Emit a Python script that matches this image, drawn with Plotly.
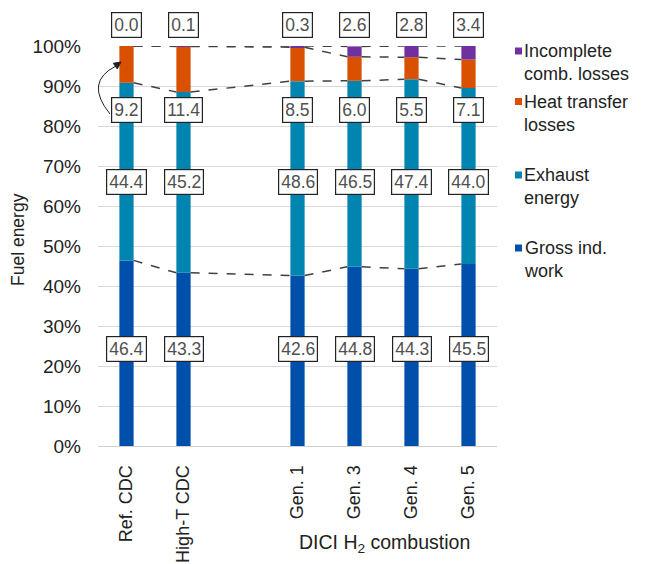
import plotly.graph_objects as go

categories = ["Ref. CDC", "High-T CDC", "Gen. 1", "Gen. 3", "Gen. 4", "Gen. 5"]
positions = [0, 1, 3, 4, 5, 6]
gross_work = [46.4, 43.3, 42.6, 44.8, 44.3, 45.5]
exhaust = [44.4, 45.2, 48.6, 46.5, 47.4, 44.0]
heat_transfer = [9.2, 11.4, 8.5, 6.0, 5.5, 7.1]
incomplete = [0.0, 0.1, 0.3, 2.6, 2.8, 3.4]
y_ticks = [0, 10, 20, 30, 40, 50, 60, 70, 80, 90, 100]

BAR_W = 0.25
L, R, T, B = 98, 150, 46, 118
W, H = 647, 564
PW, PH = W - L - R, H - T - B

def px(x):
    return (x - L) / PW

def py(y):
    return (H - B - y) / PH

FONT = "Liberation Sans, Arial"

# (name, values, colour, label centre in pixel y)
series = [
    ("Gross ind. work", gross_work, "#0050AB", 348.5),
    ("Exhaust energy", exhaust, "#0084B0", 182),
    ("Heat transfer losses", heat_transfer, "#D85000", 110),
    ("Incomplete comb. losses", incomplete, "#7030A0", 25.5),
]

fig = go.Figure()
cum = [0.0] * len(positions)
tops = []
for name, vals, color, _ in series:
    fig.add_trace(go.Bar(
        x=positions, y=vals, base=cum[:], width=BAR_W, name=name,
        marker=dict(color=color, line=dict(width=0)), showlegend=False,
    ))
    cum = [c + v for c, v in zip(cum, vals)]
    tops.append(cum[:])

# series lines connecting segment tops
for top in tops:
    xs, ys = [], []
    for i in range(len(positions) - 1):
        xs += [positions[i] + BAR_W / 2, positions[i + 1] - BAR_W / 2, None]
        ys += [top[i], top[i + 1], None]
    fig.add_trace(go.Scatter(
        x=xs, y=ys, mode="lines", showlegend=False, hoverinfo="skip",
        line=dict(color="#404040", width=1.5, dash="dash"),
    ))

# boxed value labels
for name, vals, color, ylab in series:
    for xp, v in zip(positions, vals):
        fig.add_annotation(
            x=xp, xref="x", y=py(ylab), yref="paper", xanchor="center", yanchor="middle",
            text=f"{v:.1f}", showarrow=False,
            font=dict(family=FONT, size=17.5, color="#505050"),
            bgcolor="white", bordercolor="#222222", borderwidth=1.2, borderpad=2,
        )

# manual legend
legend_items = [
    ("Incomplete<br>comb. losses", "#7030A0", 51),
    ("Heat transfer<br>losses", "#D85000", 101.5),
    ("Exhaust<br>energy", "#0084B0", 175),
    ("Gross ind.<br>work", "#0050AB", 248),
]
for text, color, yc in legend_items:
    fig.add_shape(type="rect", xref="paper", yref="paper",
                  x0=px(515), x1=px(522), y0=py(yc + 3.5), y1=py(yc - 3.5),
                  fillcolor=color, line=dict(width=0))
    fig.add_annotation(xref="paper", yref="paper", x=px(522), y=py(yc - 12),
                       xanchor="left", yanchor="top", align="left", showarrow=False,
                       text=text,
                       font=dict(family=FONT, size=18, color="#222222"))

# curved arrow from 9.2 label to heat transfer segment
p0 = (110, 114)
pc = (84, 82)
p1 = (116, 66)
fig.add_shape(type="path", xref="paper", yref="paper",
              path=f"M {px(p0[0])},{py(p0[1])} Q {px(pc[0])},{py(pc[1])} {px(p1[0])},{py(p1[1])}",
              line=dict(color="#222222", width=1))
head = [(121, 62), (117.3, 68.9), (113.3, 63.3)]
fig.add_shape(type="path", xref="paper", yref="paper",
              path="M " + " L ".join(f"{px(a)},{py(b)}" for a, b in head) + " Z",
              fillcolor="#222222", line=dict(color="#222222", width=1))

# axis titles
fig.add_annotation(xref="paper", yref="paper", x=px(18), y=py(240), textangle=-90,
                   xanchor="center", yanchor="middle",
                   text="Fuel energy", showarrow=False,
                   font=dict(family=FONT, size=17.5, color="#222222"))
fig.add_annotation(xref="paper", yref="paper", x=px(384), y=py(543),
                   xanchor="center", yanchor="middle",
                   text="DICI H<sub>2</sub> combustion", showarrow=False,
                   font=dict(family=FONT, size=19.5, color="#222222"))

fig.update_layout(
    width=W, height=H, margin=dict(l=L, r=R, t=T, b=B),
    paper_bgcolor="white", plot_bgcolor="white", barmode="overlay",
    font=dict(family=FONT, size=19, color="#222222"),
    showlegend=False,
)
fig.update_xaxes(
    range=[-0.5, 6.5], tickmode="array", tickvals=positions, ticktext=categories,
    tickangle=-90, showgrid=False, showline=True, linecolor="#d0d0d0", linewidth=1,
    zeroline=False, ticks="", ticklabelstandoff=11, tickfont=dict(size=18),
    automargin=False,
)
fig.update_yaxes(
    range=[0, 100], tickmode="array", tickvals=y_ticks,
    ticktext=[f"{t}%" for t in y_ticks], showgrid=True, gridcolor="#d9d9d9",
    gridwidth=1, zeroline=False, showline=False, ticks="", ticklabelstandoff=16,
    tickfont=dict(size=19), automargin=False,
)
fig.update_traces(cliponaxis=False, selector=dict(type="scatter"))

fig.write_html("out.html")
